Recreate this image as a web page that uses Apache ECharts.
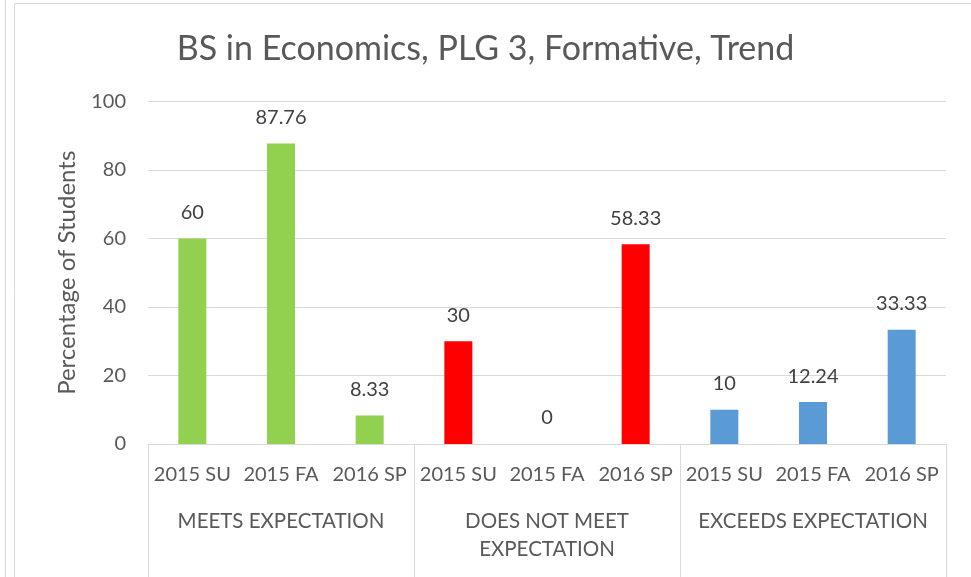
<!DOCTYPE html>
<html>
<head>
<meta charset="utf-8">
<script src="https://cdn.jsdelivr.net/npm/echarts@6/dist/echarts.min.js"></script>
<style>
html,body{margin:0;padding:0;background:#fff;}
#chart{width:971px;height:577px;}
</style>
</head>
<body>
<div id="chart"></div>
<script>
const titleText = 'BS in Economics, PLG 3, Formative, Trend';
const yAxisName = 'Percentage of Students';
const periods = ['2015 SU', '2015 FA', '2016 SP'];
const groups = ['MEETS EXPECTATION', 'DOES NOT MEET\nEXPECTATION', 'EXCEEDS EXPECTATION'];
const groupColors = ['#92D050', '#FF0000', '#5B9BD5'];
const meetsValues = [60, 87.76, 8.33];
const doesNotMeetValues = [30, 0, 58.33];
const exceedsValues = [10, 12.24, 33.33];
const yTicks = [0, 20, 40, 60, 80, 100];

const groupValues = [meetsValues, doesNotMeetValues, exceedsValues];
const categories = [];
const data = [];
groups.forEach((g, gi) => {
  periods.forEach((p, pi) => {
    categories.push(p);
    data.push({ value: groupValues[gi][pi], itemStyle: { color: groupColors[gi] } });
  });
});

const FONT = 'Lato';
const TXT = '#595959';
const chart = echarts.init(document.getElementById('chart'));
chart.setOption({
  backgroundColor: '#fff',
  animation: false,
  title: {
    text: titleText,
    left: 'center',
    top: 27,
    textStyle: { fontFamily: FONT, fontSize: 34, fontWeight: 'normal', color: TXT }
  },
  graphic: [
    { type: 'line', shape: { x1: 5.5, y1: 0, x2: 5.5, y2: 577 }, style: { stroke: '#d9d9d9', lineWidth: 1 } },
    { type: 'line', shape: { x1: 14.5, y1: 3.5, x2: 14.5, y2: 577 }, style: { stroke: '#d9d9d9', lineWidth: 1 } },
    { type: 'line', shape: { x1: 14.5, y1: 3.5, x2: 971, y2: 3.5 }, style: { stroke: '#d9d9d9', lineWidth: 1 } }
  ],
  grid: { left: 148, right: 25, top: 101.5, bottom: 133 },
  xAxis: [
    {
      type: 'category',
      data: categories,
      axisLine: { show: true, lineStyle: { color: '#d9d9d9', width: 1 } },
      axisTick: { show: false },
      axisLabel: { fontFamily: FONT, fontSize: 20, color: TXT, margin: 21, interval: 0 }
    },
    {
      type: 'category',
      data: groups,
      position: 'bottom',
      axisLine: { show: false },
      axisTick: { show: true, length: 133, lineStyle: { color: '#d9d9d9', width: 1 } },
      axisLabel: { fontFamily: FONT, fontSize: 20.5, color: TXT, margin: 63, interval: 0, lineHeight: 28 }
    }
  ],
  yAxis: {
    type: 'value',
    min: yTicks[0],
    max: yTicks[yTicks.length - 1],
    interval: 20,
    name: yAxisName,
    nameLocation: 'middle',
    nameGap: 69,
    nameTextStyle: { fontFamily: FONT, fontSize: 24, color: TXT },
    axisLine: { show: false },
    axisTick: { show: false },
    splitLine: { lineStyle: { color: '#d9d9d9', width: 1 } },
    axisLabel: { fontFamily: FONT, fontSize: 20, color: TXT, margin: 22 }
  },
  series: [{
    type: 'bar',
    xAxisIndex: 0,
    data: data,
    barWidth: 28,
    label: {
      show: true,
      position: 'top',
      distance: 16,
      fontFamily: FONT,
      fontSize: 20,
      color: '#404040'
    }
  }]
});
</script>
</body>
</html>
